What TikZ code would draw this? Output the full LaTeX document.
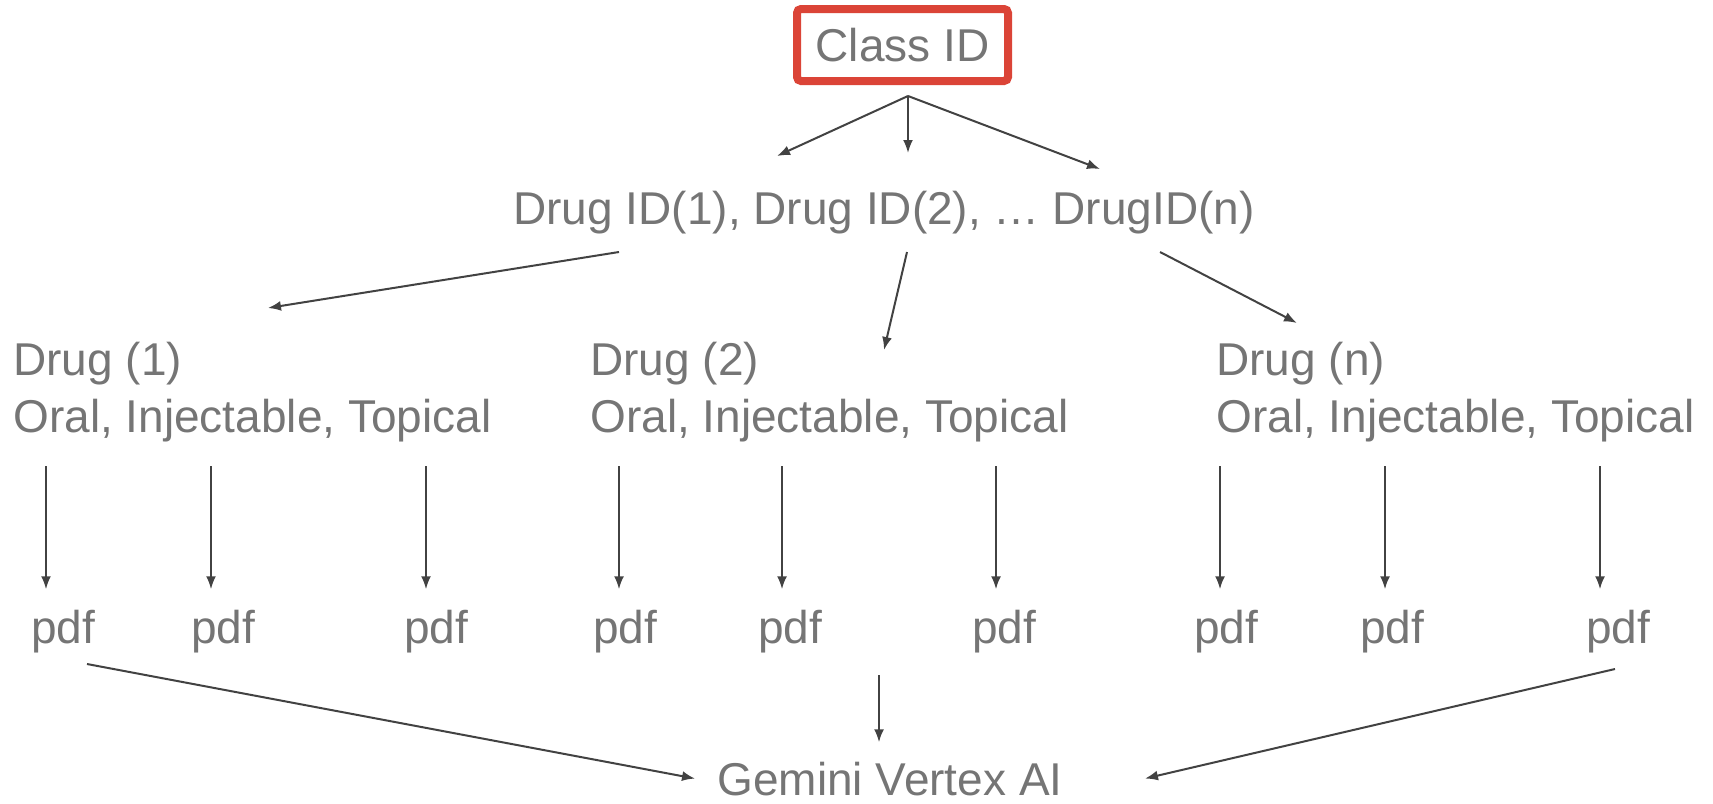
\documentclass[tikz,border=0pt]{standalone}
\usepackage{fontspec}
\setmainfont{Liberation Sans}
\usetikzlibrary{arrows.meta}
\definecolor{labelgray}{HTML}{757575}
\definecolor{arrowgray}{HTML}{424242}
\definecolor{classred}{HTML}{DB4437}

\begin{document}
\begin{tikzpicture}[x=0.5pt, y=-0.5pt,
    nodetext/.style={text=labelgray, font=\fontsize{23}{27}\selectfont, inner sep=0pt},
    pdfnode/.style={nodetext, anchor=base west, inner ysep=10pt},
    flow/.style={draw=arrowgray, line width=1pt, -{Latex[length=6.5pt, width=5pt]}}]
  \useasboundingbox (0,0) rectangle (1713,803);

  % class level
  \node[nodetext, draw=classred, line width=4pt, rounded corners=2pt,
        minimum width=105.5pt, minimum height=36pt] (classid) at (902.5,45) {Class ID};
  \coordinate (fork) at (908,96);
  \coordinate (id1) at (777,156);
  \coordinate (id2) at (908,153);
  \coordinate (id3) at (1100,169);
  \draw[flow] (fork) -- (id1);
  \draw[flow] (fork) -- (id2);
  \draw[flow] (fork) -- (id3);

  \node[nodetext, anchor=base] (drugids) at (884,224) {Drug ID(1), Drug ID(2), … DrugID(n)};

  % drug level
  \coordinate (split1) at (619,252);
  \coordinate (split2) at (907,252);
  \coordinate (split3) at (1160,252);
  \coordinate (drugin1) at (268,308);
  \coordinate (drugin2) at (884,350);
  \coordinate (drugin3) at (1297,323);
  \draw[flow] (split1) -- (drugin1);
  \draw[flow] (split2) -- (drugin2);
  \draw[flow] (split3) -- (drugin3);

  \node[nodetext, anchor=base west] (drug1) at (13,375) {Drug (1)};
  \node[nodetext, anchor=base west] (form1) at (13,432) {Oral, Injectable, Topical};
  \node[nodetext, anchor=base west] (drug2) at (590,375) {Drug (2)};
  \node[nodetext, anchor=base west] (form2) at (590,432) {Oral, Injectable, Topical};
  \node[nodetext, anchor=base west] (drug3) at (1216,375) {Drug (n)};
  \node[nodetext, anchor=base west] (form3) at (1216,432) {Oral, Injectable, Topical};

  % pdf level
  \node[pdfnode] (pdf11) at (31,643) {pdf};
  \node[pdfnode] (pdf12) at (191,643) {pdf};
  \node[pdfnode] (pdf13) at (404,643) {pdf};
  \node[pdfnode] (pdf21) at (593,643) {pdf};
  \node[pdfnode] (pdf22) at (758,643) {pdf};
  \node[pdfnode] (pdf23) at (972,643) {pdf};
  \node[pdfnode] (pdf31) at (1194,643) {pdf};
  \node[pdfnode] (pdf32) at (1360,643) {pdf};
  \node[pdfnode] (pdf33) at (1586,643) {pdf};

  \coordinate (get11) at (46,466);
  \coordinate (get12) at (211,466);
  \coordinate (get13) at (426,466);
  \coordinate (get21) at (619,466);
  \coordinate (get22) at (782,466);
  \coordinate (get23) at (996,466);
  \coordinate (get31) at (1220,466);
  \coordinate (get32) at (1385,466);
  \coordinate (get33) at (1600,466);
  \draw[flow] (get11) -- (get11 |- pdf11.north);
  \draw[flow] (get12) -- (get12 |- pdf12.north);
  \draw[flow] (get13) -- (get13 |- pdf13.north);
  \draw[flow] (get21) -- (get21 |- pdf21.north);
  \draw[flow] (get22) -- (get22 |- pdf22.north);
  \draw[flow] (get23) -- (get23 |- pdf23.north);
  \draw[flow] (get31) -- (get31 |- pdf31.north);
  \draw[flow] (get32) -- (get32 |- pdf32.north);
  \draw[flow] (get33) -- (get33 |- pdf33.north);

  % model
  \node[nodetext, anchor=base, inner xsep=11pt, inner ysep=9.5pt] (gemini) at (890,795) {Gemini Vertex AI};
  \coordinate (send1) at (87,664);
  \coordinate (send2) at (879,675);
  \coordinate (send3) at (1615,669);
  \draw[flow] (send1) -- (gemini.west);
  \draw[flow] (send2) -- (send2 |- gemini.north);
  \draw[flow] (send3) -- ([xshift=30pt]gemini.east);
\end{tikzpicture}
\end{document}
